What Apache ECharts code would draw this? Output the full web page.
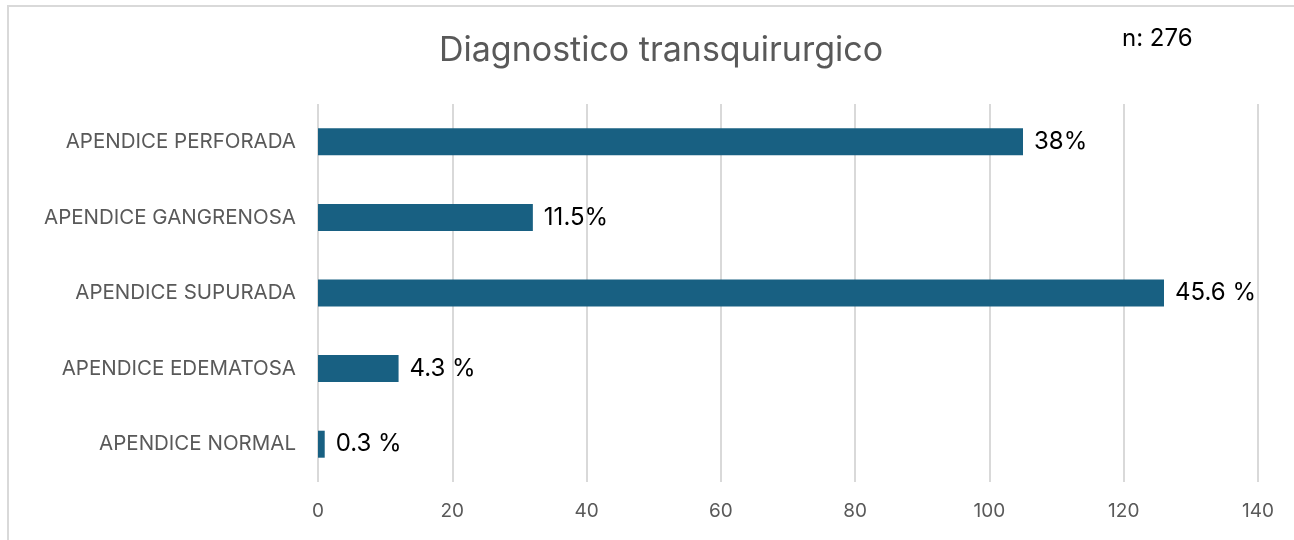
<!DOCTYPE html>
<html>
<head>
<meta charset="utf-8">
<script src="https://cdn.jsdelivr.net/npm/echarts@6/dist/echarts.min.js"></script>
<style>
  html, body { margin: 0; padding: 0; background: #fff; }
  #frame {
    position: absolute; left: 7px; top: 5px; width: 1287px; height: 535px;
    border-left: 2px solid #d9d9d9; border-top: 2px solid #d9d9d9;
  }
  #chart { position: absolute; left: 0; top: 0; width: 1294px; height: 540px; }
</style>
</head>
<body>
<div id="frame"></div>
<div id="chart"></div>
<script>
const categories = [
  "APENDICE PERFORADA",
  "APENDICE GANGRENOSA",
  "APENDICE SUPURADA",
  "APENDICE EDEMATOSA",
  "APENDICE NORMAL",
];
const counts = [105, 32, 126, 12, 1];
const percentLabels = ["38%", "11.5%", "45.6 %", "4.3 %", "0.3 %"];
const xTicks = [0, 20, 40, 60, 80, 100, 120, 140];

const fontFamily = "Inter, 'Liberation Sans', Arial, sans-serif";
const myChart = echarts.init(document.getElementById("chart"));

myChart.setOption({
  animation: false,
  title: {
    text: "Diagnostico transquirurgico",
    left: 656,
    top: 29,
    textAlign: "center",
    textStyle: {
      color: "#595959",
      fontSize: 34,
      fontWeight: "normal",
      fontFamily: fontFamily,
    },
  },
  graphic: [
    {
      type: "text",
      left: 1122,
      top: 27,
      style: {
        text: "n: 276",
        fill: "#000",
        font: "24px " + fontFamily,
      },
    },
  ],
  grid: {
    left: 318,
    right: 36,
    top: 104,
    bottom: 58,
  },
  xAxis: {
    type: "value",
    min: xTicks[0],
    max: xTicks[xTicks.length - 1],
    interval: 20,
    axisLine: { show: false },
    axisTick: { show: false },
    axisLabel: {
      color: "#595959",
      fontSize: 19,
      fontFamily: fontFamily,
      margin: 20,
    },
    splitLine: {
      lineStyle: { color: "#d9d9d9", width: 2 },
    },
  },
  yAxis: {
    type: "category",
    data: categories,
    inverse: true,
    axisLine: { show: false },
    axisTick: { show: false },
    axisLabel: {
      color: "#595959",
      fontSize: 20.5,
      fontFamily: fontFamily,
      margin: 22,
    },
  },
  series: [
    {
      type: "bar",
      data: counts.map((v, i) => ({ value: v, label: { formatter: percentLabels[i] } })),
      barWidth: 27,
      itemStyle: { color: "#186082" },
      label: {
        show: true,
        position: "right",
        distance: 11,
        color: "#000",
        fontSize: 24,
        fontFamily: fontFamily,
      },
    },
  ],
});
</script>
</body>
</html>
